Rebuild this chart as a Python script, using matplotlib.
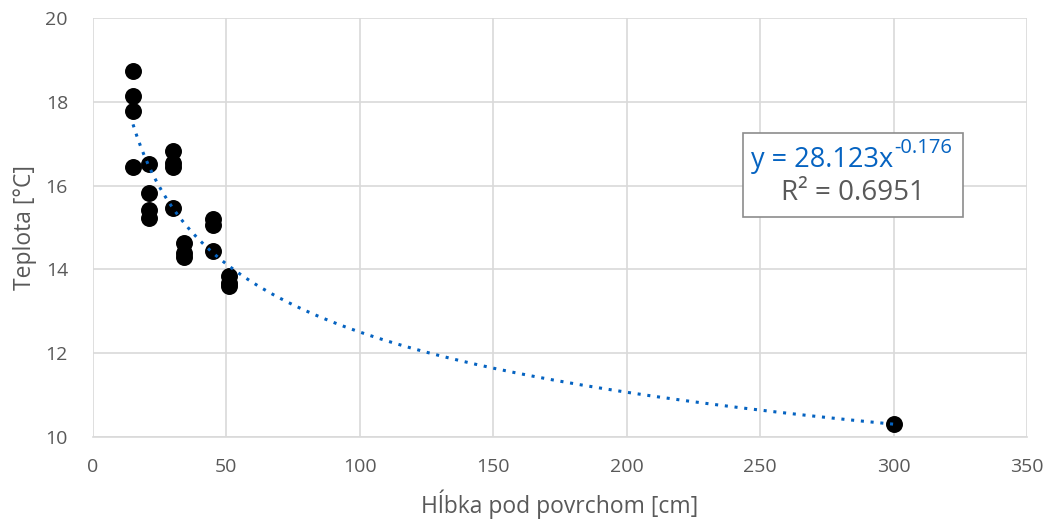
import matplotlib
matplotlib.use("Agg")
import matplotlib.pyplot as plt
from matplotlib.patches import Rectangle
import numpy as np

# depth [cm] and temperature [°C]
depth = [15, 15, 15, 15,
         21, 21, 21, 21,
         30, 30, 30, 30,
         34, 34, 34,
         45, 45, 45,
         51, 51, 51,
         300]
temp = [18.74, 18.14, 17.78, 16.45,
        16.51, 15.83, 15.42, 15.22,
        16.83, 16.53, 16.44, 15.46,
        14.62, 14.38, 14.29,
        15.20, 15.06, 14.44,
        13.85, 13.68, 13.60,
        10.30]

# power trendline from the chart label
coef_a = 28.123
coef_b = -0.176
r2 = 0.6951

plt.rcParams["font.family"] = ["Open Sans", "DejaVu Sans"]
fig = plt.figure(figsize=(10.49, 5.22), dpi=100)
ax = fig.add_axes([93 / 1049, 85 / 522, 934 / 1049, 419 / 522])

xs = np.linspace(min(depth), max(depth), 400)
ax.plot(xs, coef_a * xs ** coef_b, color="#0563c1", linestyle=(0, (1, 2.2)),
        linewidth=2.2, zorder=3)
ax.scatter(depth, temp, s=125, color="black", zorder=2)

ax.set_xlim(0, 350)
ax.set_ylim(10, 20)
ax.set_xticks(np.arange(0, 351, 50))
ax.set_yticks(np.arange(10, 21, 2))
ax.grid(True, color="#d9d9d9", linewidth=1.2)
ax.set_axisbelow(True)
for s in ["top", "right", "left"]:
    ax.spines[s].set_visible(False)
ax.spines["bottom"].set_color("#d9d9d9")
ax.spines["bottom"].set_linewidth(1.2)
ax.tick_params(length=0, labelsize=14, colors="#595959")
ax.tick_params(axis="x", pad=15)
ax.tick_params(axis="y", pad=18)

ax.set_xlabel("Hĺbka pod povrchom [cm]", fontsize=16.5, color="#595959", labelpad=10)
ax.set_ylabel("Teplota [°C]", fontsize=16.5, color="#595959", labelpad=6)

box = Rectangle((0.696, 0.525), 0.235, 0.2, transform=ax.transAxes,
                facecolor="white", edgecolor="#8c8c8c", linewidth=1.2, zorder=4)
ax.add_patch(box)
eq = ax.text(0.704, 0.66, f"y = {coef_a}x", transform=ax.transAxes,
             ha="left", va="center", fontsize=19.5, color="#0563c1", zorder=5)
ax.annotate(f"{coef_b}", xy=(1, 0.6), xycoords=eq, xytext=(1, 0),
            textcoords="offset points", ha="left", va="bottom",
            fontsize=14.5, color="#0563c1", zorder=5)
ax.text(0.8135, 0.582, f"R² = {r2}", transform=ax.transAxes,
        ha="center", va="center", fontsize=20, color="#595959", zorder=5)

fig.savefig("out.png", dpi=100)
